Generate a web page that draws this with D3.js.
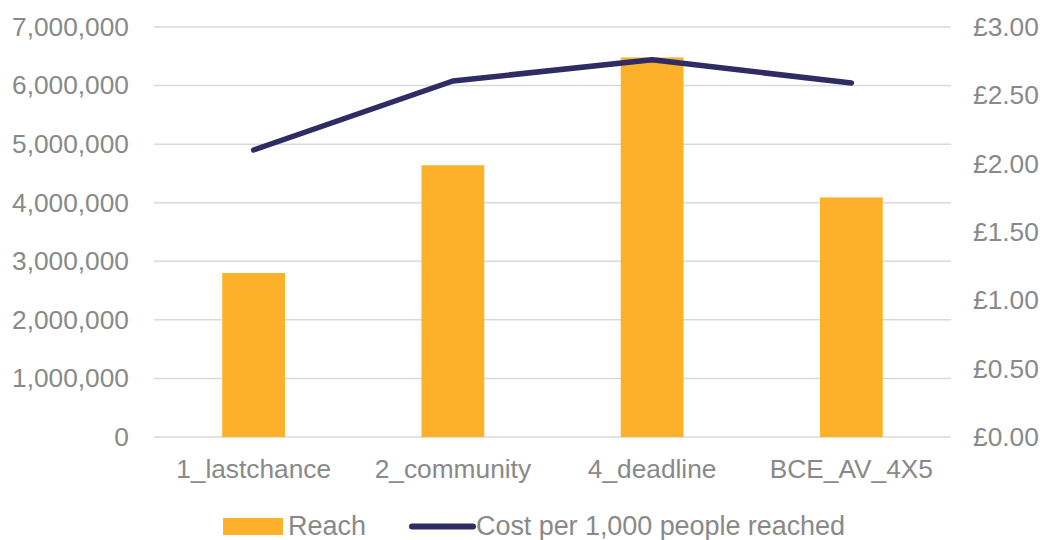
<!DOCTYPE html>
<html><head><meta charset="utf-8">
<script src="https://cdn.jsdelivr.net/npm/d3@7"></script>
<style>
body{margin:0;background:#fff;}
text{font-family:"Liberation Sans",Arial,sans-serif;fill:#898989;}
</style></head>
<body><svg id="c" width="1045" height="540"></svg>
<script>
const categories = ["1_lastchance","2_community","4_deadline","BCE_AV_4X5"];
const reach = [2800000, 4640000, 6480000, 4090000];
const costPer1000 = [2.10, 2.605, 2.76, 2.59];
const leftTicks = [0,1000000,2000000,3000000,4000000,5000000,6000000,7000000];
const rightTicks = [0,0.5,1,1.5,2,2.5,3];
const seriesNames = ["Reach","Cost per 1,000 people reached"];

const svg = d3.select("#c");
const L=154, R=951, T=27, B=437;
const x = d3.scaleBand().domain(categories).range([L,R]).paddingInner(0.685).paddingOuter(0.3425);
const y = d3.scaleLinear().domain([0,7000000]).range([B,T]);
const y2 = d3.scaleLinear().domain([0,3]).range([B,T]);
const fs = 26.3;

// gridlines
svg.append("g").selectAll("line").data(leftTicks).join("line")
  .attr("x1",L).attr("x2",R).attr("y1",d=>y(d)).attr("y2",d=>y(d))
  .attr("stroke","#d9d9d9").attr("stroke-width",1.5);

// left axis
const la = svg.append("g").attr("transform",`translate(${L},0)`)
  .call(d3.axisLeft(y).tickValues(leftTicks).tickFormat(d3.format(",")).tickSize(0).tickPadding(25));
la.select(".domain").remove();
la.selectAll("text").attr("font-size",fs).attr("fill","#898989").style("font-family","Liberation Sans, Arial");

// right axis
const ra = svg.append("g").attr("transform",`translate(${R},0)`)
  .call(d3.axisRight(y2).tickValues(rightTicks).tickFormat(d=>"£"+d.toFixed(2)).tickSize(0).tickPadding(22));
ra.select(".domain").remove();
ra.selectAll("text").attr("font-size",fs).attr("fill","#898989").style("font-family","Liberation Sans, Arial");

// x axis
const xa = svg.append("g").attr("transform",`translate(0,${B})`)
  .call(d3.axisBottom(x).tickSize(0).tickPadding(22));
xa.select(".domain").remove();
xa.selectAll("text").attr("font-size",fs).attr("fill","#898989").style("font-family","Liberation Sans, Arial");

// bars
svg.append("g").selectAll("rect").data(reach).join("rect")
  .attr("x",(d,i)=>x(categories[i])).attr("width",x.bandwidth())
  .attr("y",d=>y(d)).attr("height",d=>B-y(d)).attr("fill","#FDB12B");

// line
const line = d3.line().x((d,i)=>x(categories[i])+x.bandwidth()/2).y(d=>y2(d));
svg.append("path").datum(costPer1000).attr("d",line).attr("fill","none")
  .attr("stroke","#2E2C62").attr("stroke-width",5.5).attr("stroke-linecap","round").attr("stroke-linejoin","round");

// legend
const lg = svg.append("g");
lg.append("rect").attr("x",223).attr("y",518).attr("width",60).attr("height",17).attr("fill","#FDB12B");
lg.append("text").attr("x",288).attr("y",535).attr("font-size",27).text(seriesNames[0]);
lg.append("line").attr("x1",412).attr("x2",473).attr("y1",526.5).attr("y2",526.5)
  .attr("stroke","#2E2C62").attr("stroke-width",6).attr("stroke-linecap","round");
lg.append("text").attr("x",476).attr("y",535).attr("font-size",27).attr("textLength",369).text(seriesNames[1]);
</script></body></html>
